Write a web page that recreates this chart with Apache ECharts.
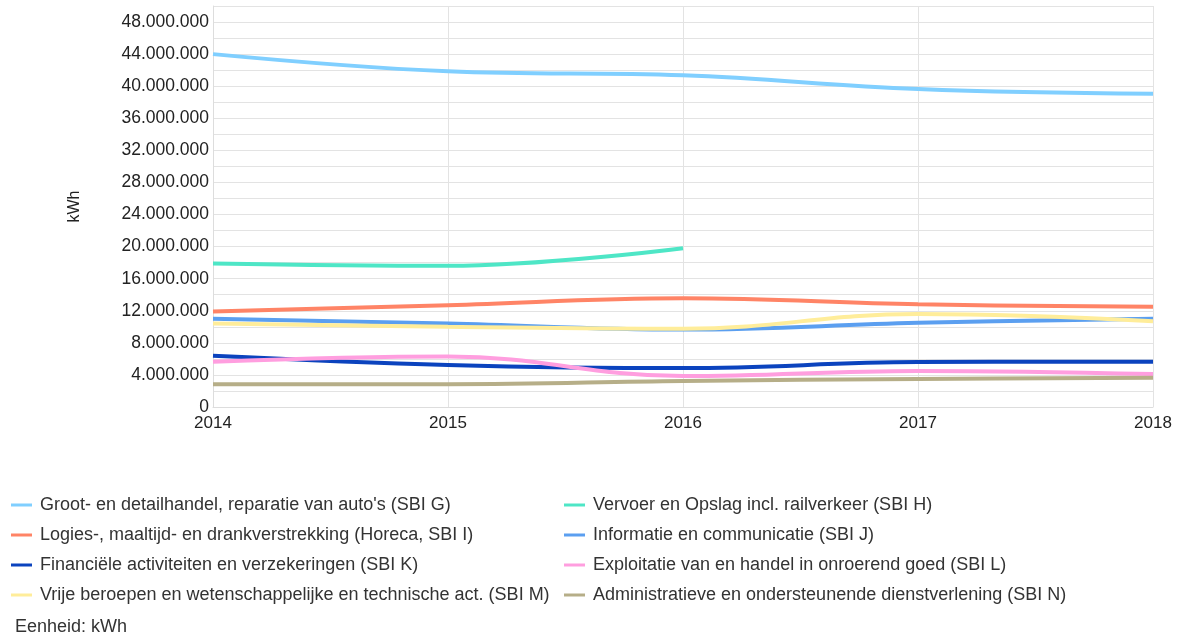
<!DOCTYPE html>
<html>
<head>
<meta charset="utf-8">
<script src="https://cdn.jsdelivr.net/npm/echarts@6/dist/echarts.min.js"></script>
<style>
html, body { margin: 0; padding: 0; background: #fff; }
#chart { width: 1179px; height: 635px; }
</style>
</head>
<body>
<div id="chart"></div>
<script>
// jaren
var years = ['2014', '2015', '2016', '2017', '2018'];

// verbruik per sector (kWh)
var sbiG = [44000000, 41850000, 41350000, 39650000, 39050000];
var sbiH = [17900000, 17600000, 19800000, null, null];
var sbiI = [11900000, 12700000, 13550000, 12800000, 12500000];
var sbiJ = [11000000, 10400000, 9650000, 10500000, 11000000];
var sbiK = [6400000, 5250000, 4850000, 5600000, 5650000];
var sbiL = [5650000, 6300000, 3850000, 4500000, 4100000];
var sbiM = [10400000, 10000000, 9750000, 11600000, 10700000];
var sbiN = [2850000, 2850000, 3250000, 3500000, 3650000];

var names = {
    G: "Groot- en detailhandel, reparatie van auto's (SBI G)",
    H: "Vervoer en Opslag incl. railverkeer (SBI H)",
    I: "Logies-, maaltijd- en drankverstrekking (Horeca, SBI I)",
    J: "Informatie en communicatie (SBI J)",
    K: "Financiële activiteiten en verzekeringen (SBI K)",
    L: "Exploitatie van en handel in onroerend goed (SBI L)",
    M: "Vrije beroepen en wetenschappelijke en technische act. (SBI M)",
    N: "Administratieve en ondersteunende dienstverlening (SBI N)"
};

var font = 'Liberation Sans, Arial, sans-serif';

function fmt(v) {
    return String(v).replace(/\B(?=(\d{3})+(?!\d))/g, '.');
}

function lijn(naam, data, kleur) {
    return {
        name: naam,
        type: 'line',
        data: data,
        smooth: 0.4,
        showSymbol: false,
        symbol: 'none',
        lineStyle: {width: 4, color: kleur},
        itemStyle: {color: kleur}
    };
}

function legendKolom(left, data) {
    return {
        orient: 'vertical',
        left: left,
        top: 490,
        itemGap: 10,
        itemWidth: 21,
        itemHeight: 3,
        icon: 'rect',
        textStyle: {color: '#333', fontSize: 18, lineHeight: 20, fontFamily: font, padding: [0, 0, 0, 3]},
        data: data
    };
}

var myChart = echarts.init(document.getElementById('chart'));
var options = {
    backgroundColor: '#fff',
    animation: false,
    textStyle: {fontFamily: font},
    grid: {left: 213, right: 26, top: 6, bottom: 228},
    legend: [
        legendKolom(6, [names.G, names.I, names.K, names.M]),
        legendKolom(559, [names.H, names.J, names.L, names.N])
    ],
    graphic: [{
        type: 'text',
        left: 15,
        top: 618,
        style: {text: 'Eenheid: kWh', fill: '#333', fontSize: 18, fontFamily: font}
    }],
    xAxis: {
        type: 'category',
        boundaryGap: false,
        data: years,
        axisLine: {lineStyle: {color: '#ddd'}},
        axisTick: {show: false},
        axisLabel: {color: '#222', fontSize: 17, margin: 8},
        splitLine: {show: true, lineStyle: {color: '#e3e3e3'}}
    },
    yAxis: {
        type: 'value',
        min: 0,
        max: 50000000,
        interval: 2000000,
        name: 'kWh',
        nameLocation: 'middle',
        nameGap: 130,
        nameRotate: 90,
        nameTextStyle: {color: '#222', fontSize: 16},
        axisLine: {show: true, lineStyle: {color: '#ddd'}},
        axisTick: {show: false},
        axisLabel: {
            color: '#222',
            fontSize: 17.5,
            margin: 4,
            formatter: function (v) {
                return v % 4000000 === 0 ? fmt(v) : '';
            }
        },
        splitLine: {show: true, lineStyle: {color: '#e3e3e3'}}
    },
    series: [
        lijn(names.G, sbiG, '#80CFFF'),
        lijn(names.H, sbiH, '#4EE6C6'),
        lijn(names.I, sbiI, '#FF8466'),
        lijn(names.J, sbiJ, '#5B9FF0'),
        lijn(names.K, sbiK, '#0B43BE'),
        lijn(names.L, sbiL, '#FF9EDF'),
        lijn(names.M, sbiM, '#FFED9A'),
        lijn(names.N, sbiN, '#B6AE88')
    ]
};
myChart.setOption(options);
</script>
</body>
</html>
